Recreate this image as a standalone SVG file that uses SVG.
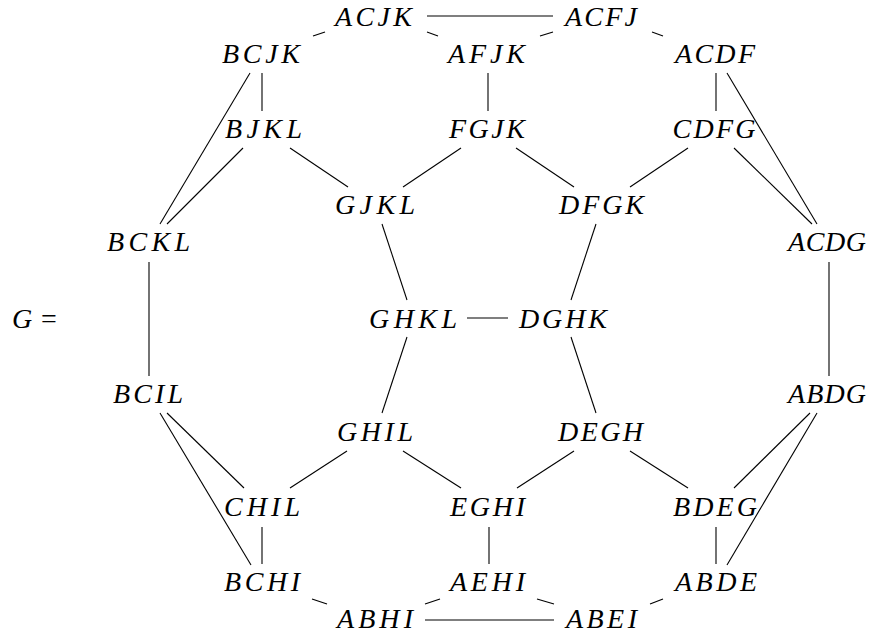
<svg xmlns="http://www.w3.org/2000/svg" width="871" height="637" viewBox="0 0 871 637">
<style>
.n text{font-style:italic;font-size:28px;fill:#000;text-anchor:middle}
.eq{font-size:28px;fill:#000}
#edges line{stroke:#000;stroke-width:1.1;fill:none}
</style>
<rect width="871" height="637" fill="#fff"/>
<g id="edges">
<line x1="427" y1="16" x2="553" y2="16"/>
<line x1="313" y1="36" x2="325" y2="32"/>
<line x1="427" y1="32" x2="438" y2="36"/>
<line x1="540" y1="36" x2="553" y2="32"/>
<line x1="652" y1="32" x2="663" y2="36"/>
<line x1="262" y1="73" x2="262" y2="111"/>
<line x1="488" y1="73" x2="488" y2="111"/>
<line x1="716" y1="73" x2="716" y2="111"/>
<line x1="250" y1="73" x2="160" y2="224"/>
<line x1="243" y1="148" x2="167" y2="224"/>
<line x1="290" y1="148" x2="348" y2="187"/>
<line x1="461" y1="148" x2="403" y2="187"/>
<line x1="516" y1="148" x2="574" y2="187"/>
<line x1="688" y1="148" x2="630" y2="187"/>
<line x1="734" y1="148" x2="812" y2="224"/>
<line x1="727" y1="73" x2="817" y2="224"/>
<line x1="382" y1="224" x2="407" y2="300"/>
<line x1="596" y1="224" x2="571" y2="300"/>
<line x1="467" y1="318" x2="508" y2="318"/>
<line x1="149" y1="262" x2="149" y2="376"/>
<line x1="829" y1="262" x2="829" y2="376"/>
<line x1="407" y1="337" x2="382" y2="413"/>
<line x1="571" y1="337" x2="596" y2="413"/>
<line x1="167" y1="413" x2="244" y2="488"/>
<line x1="160" y1="413" x2="251" y2="565"/>
<line x1="347" y1="451" x2="290" y2="488"/>
<line x1="403" y1="451" x2="461" y2="488"/>
<line x1="574" y1="451" x2="517" y2="488"/>
<line x1="630" y1="451" x2="688" y2="488"/>
<line x1="810" y1="413" x2="734" y2="488"/>
<line x1="817" y1="413" x2="727" y2="565"/>
<line x1="262" y1="527" x2="262" y2="564"/>
<line x1="489" y1="527" x2="489" y2="564"/>
<line x1="716" y1="527" x2="716" y2="564"/>
<line x1="312" y1="599" x2="327" y2="604"/>
<line x1="425" y1="604" x2="440" y2="599"/>
<line x1="537" y1="599" x2="554" y2="604"/>
<line x1="650" y1="604" x2="663" y2="599"/>
<line x1="425" y1="620" x2="554" y2="620"/>
</g>
<text class="eq" font-family="'Liberation Serif', 'Times New Roman', serif" x="12" y="327.5"><tspan font-style="italic">G</tspan><tspan x="41">=</tspan></text>
<g class="n" font-family="'Liberation Serif', 'Times New Roman', serif">
<g id="ACJK"><text x="373.5" y="25.5" textLength="77" lengthAdjust="spacing">ACJK</text></g>
<g id="ACFJ"><text x="601" y="25.5" textLength="72" lengthAdjust="spacing">ACFJ</text></g>
<g id="BCJK"><text x="261" y="63" textLength="78" lengthAdjust="spacing">BCJK</text></g>
<g id="AFJK"><text x="486.5" y="63" textLength="77" lengthAdjust="spacing">AFJK</text></g>
<g id="ACDF"><text x="715" y="63" textLength="80" lengthAdjust="spacing">ACDF</text></g>
<g id="BJKL"><text x="263.5" y="138" textLength="77" lengthAdjust="spacing">BJKL</text></g>
<g id="FGJK"><text x="487" y="138" textLength="76" lengthAdjust="spacing">FGJK</text></g>
<g id="CDFG"><text x="714" y="138" textLength="83" lengthAdjust="spacing">CDFG</text></g>
<g id="GJKL"><text x="375" y="213.5" textLength="80" lengthAdjust="spacing">GJKL</text></g>
<g id="DFGK"><text x="601.5" y="213.5" textLength="85" lengthAdjust="spacing">DFGK</text></g>
<g id="BCKL"><text x="148.5" y="251" textLength="83" lengthAdjust="spacing">BCKL</text></g>
<g id="ACDG"><text x="827" y="251" textLength="78" lengthAdjust="spacing">ACDG</text></g>
<g id="GHKL"><text x="413" y="327.5" textLength="88" lengthAdjust="spacing">GHKL</text></g>
<g id="DGHK"><text x="563" y="327.5" textLength="88" lengthAdjust="spacing">DGHK</text></g>
<g id="BCIL"><text x="148" y="402.5" textLength="70" lengthAdjust="spacing">BCIL</text></g>
<g id="ABDG"><text x="827" y="402.5" textLength="78" lengthAdjust="spacing">ABDG</text></g>
<g id="GHIL"><text x="375" y="441" textLength="76" lengthAdjust="spacing">GHIL</text></g>
<g id="DEGH"><text x="600.5" y="441" textLength="85" lengthAdjust="spacing">DEGH</text></g>
<g id="CHIL"><text x="262" y="516" textLength="76" lengthAdjust="spacing">CHIL</text></g>
<g id="EGHI"><text x="487.5" y="516" textLength="75" lengthAdjust="spacing">EGHI</text></g>
<g id="BDEG"><text x="715" y="516" textLength="84" lengthAdjust="spacing">BDEG</text></g>
<g id="BCHI"><text x="262" y="591" textLength="76" lengthAdjust="spacing">BCHI</text></g>
<g id="AEHI"><text x="487.5" y="591" textLength="75" lengthAdjust="spacing">AEHI</text></g>
<g id="ABDE"><text x="716" y="591" textLength="82" lengthAdjust="spacing">ABDE</text></g>
<g id="ABHI"><text x="375" y="628" textLength="76" lengthAdjust="spacing">ABHI</text></g>
<g id="ABEI"><text x="601.5" y="628" textLength="71" lengthAdjust="spacing">ABEI</text></g>
</g>
</svg>
